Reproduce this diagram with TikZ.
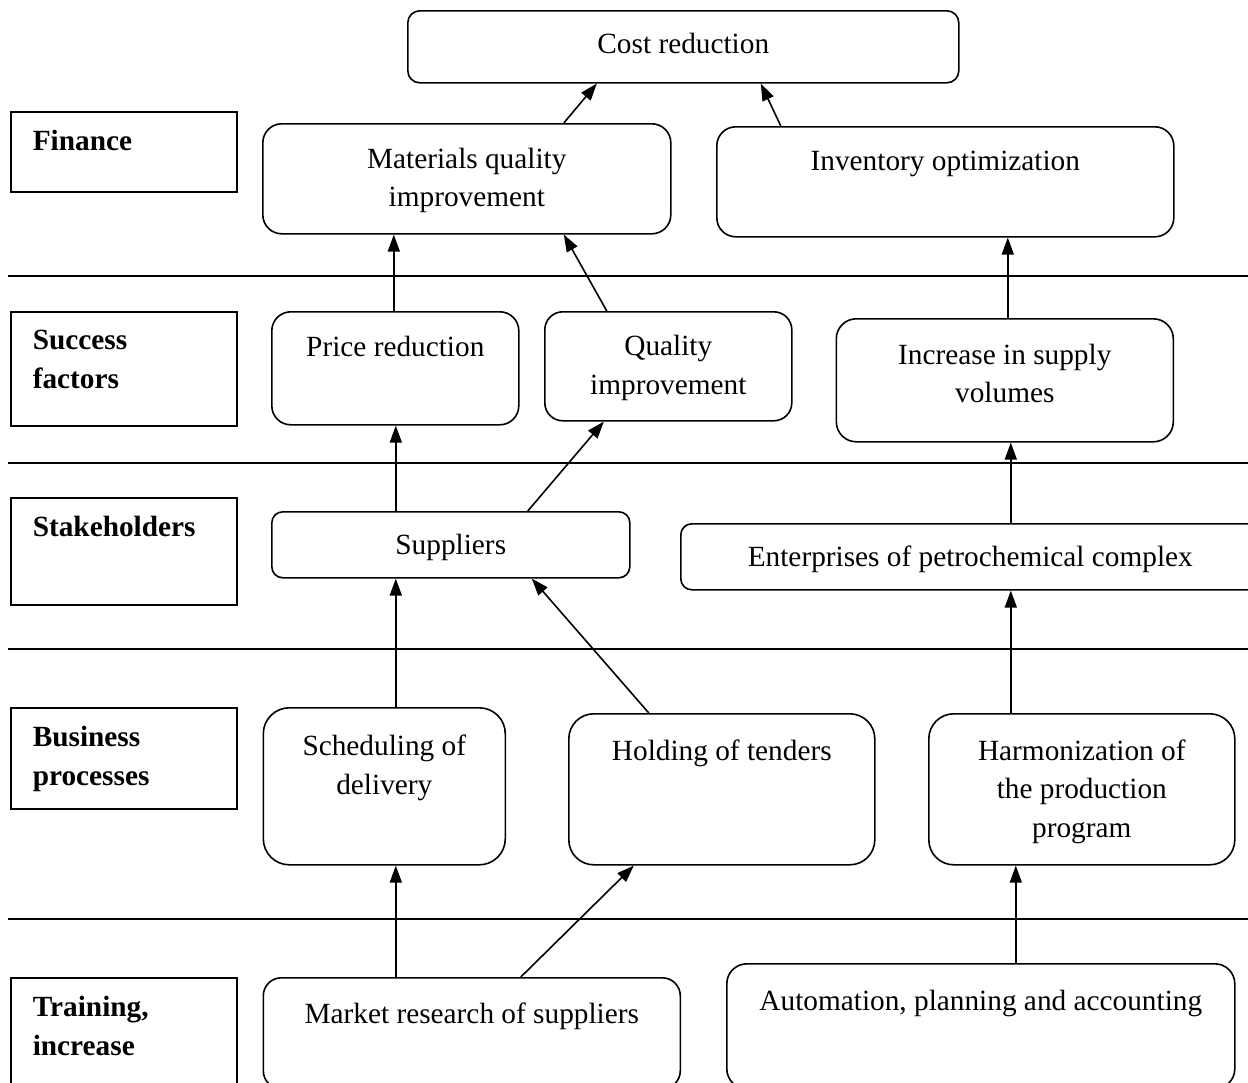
\documentclass[tikz,border=0pt]{standalone}
\usepackage{fontspec}
\setmainfont{Liberation Serif}
\usetikzlibrary{arrows.meta,calc}
\tikzset{>={Triangle[length=17pt,width=12pt]},
  every node/.style={font=\fontsize{29.3}{38.5}\selectfont},
  blk/.style={draw,line width=1.6pt,rounded corners=#1,inner sep=0pt,anchor=north west},
  lab/.style={draw,line width=1.6pt,inner xsep=22pt,inner ysep=0pt,anchor=north west,font=\fontsize{29.3}{38.5}\selectfont\bfseries},
  flow/.style={line width=1.6pt,->},
  rule/.style={line width=1.6pt}}
% width, height, top gap, text
\newcommand{\boxtext}[4]{\parbox[t][#2pt][t]{#1pt}{\centering\vspace*{#3pt}#4}}
\newcommand{\labtext}[2]{\parbox[t][#1pt][t]{182pt}{\raggedright\vspace*{18.5pt}#2}}

\begin{document}
\begin{tikzpicture}[x=1pt,y=-1pt]
\useasboundingbox (0,0) rectangle (1248,1082);
\clip (0,0) rectangle (1248,1082);
% levels
\foreach \y in {276,463,649,919} \draw[rule] (8,\y)--(1260,\y);
\node[lab] (lfin) at (10,111) {\labtext{80}{Finance}};
\node[lab] (lsuc) at (10,311) {\labtext{114}{Success\\factors}};
\node[lab] (lsta) at (10,497) {\labtext{107}{Stakeholders}};
\node[lab] (lbus) at (10,707) {\labtext{101}{Business\\processes}};
\node[lab] (ltra) at (10,977) {\labtext{140}{Training,\\increase}};
% boxes
\node[blk=12pt] (cost) at (407,10) {\boxtext{551}{72}{22}{Cost reduction}};
\node[blk=19pt] (mq) at (262,123) {\boxtext{408}{110}{24}{Materials quality\\improvement}};
\node[blk=19pt] (inv) at (716,126) {\boxtext{457}{110}{24}{Inventory optimization}};
\node[blk=19pt] (price) at (271,311) {\boxtext{247}{113}{24}{Price reduction}};
\node[blk=18pt] (qual) at (544,311) {\boxtext{247}{109}{23.5}{Quality\\improvement}};
\node[blk=20pt] (incr) at (835.5,318) {\boxtext{337}{123}{25}{Increase in supply\\volumes}};
\node[blk=11pt] (supp) at (271,511) {\boxtext{358}{66}{22.5}{Suppliers}};
\node[blk=11pt] (ent) at (680,523) {\boxtext{579}{66}{22.5}{Enterprises of petrochemical complex}};
\node[blk=26pt] (sched) at (262.5,707) {\boxtext{242}{157}{27.5}{Scheduling of\\delivery}};
\node[blk=25pt] (hold) at (568,713) {\boxtext{306}{151}{26}{Holding of tenders}};
\node[blk=25pt] (harm) at (928,713) {\boxtext{306}{151}{26}{Harmonization of\\the production\\program}};
\node[blk=18pt] (market) at (262.5,977) {\boxtext{417}{111}{25.5}{Market research of suppliers}};
\node[blk=20pt] (auto) at (726,963) {\boxtext{508}{125}{26.5}{Automation, planning and accounting}};
% links
\draw[flow] ($(mq.north)+(97,0)$)--($(cost.south)+(-86.5,0)$);
\draw[flow] ($(inv.north)+(-164.5,0)$)--($(cost.south)+(77.5,0)$);
\draw[flow] ($(price.north)+(-1.5,0)$)--($(mq.south)+(-73,0)$);
\draw[flow] ($(qual.north)+(-61.5,0)$)--($(mq.south)+(97,0)$);
\draw[flow] ($(incr.north)+(3,0)$)--($(inv.south)+(62.5,0)$);
\draw[flow] ($(supp.north)+(-55,0)$)--($(price.south)+(0.5,0)$);
\draw[flow] ($(supp.north)+(77,0)$)--($(qual.south)+(-64.5,0)$);
\draw[flow] ($(ent.north)+(40.5,0)$)--($(incr.south)+(6,0)$);
\draw[flow] ($(sched.north)+(11.5,0)$)--($(supp.south)+(-55,0)$);
\draw[flow] ($(hold.north)+(-73,0)$)--($(supp.south)+(81,0)$);
\draw[flow] ($(harm.north)+(-71,0)$)--($(ent.south)+(40.5,0)$);
\draw[flow] ($(market.north)+(-76,0)$)--($(sched.south)+(11.5,0)$);
\draw[flow] ($(market.north)+(49,0)$)--($(hold.south)+(-88,0)$);
\draw[flow] ($(auto.north)+(35,0)$)--($(harm.south)+(-66,0)$);
\end{tikzpicture}
\end{document}
